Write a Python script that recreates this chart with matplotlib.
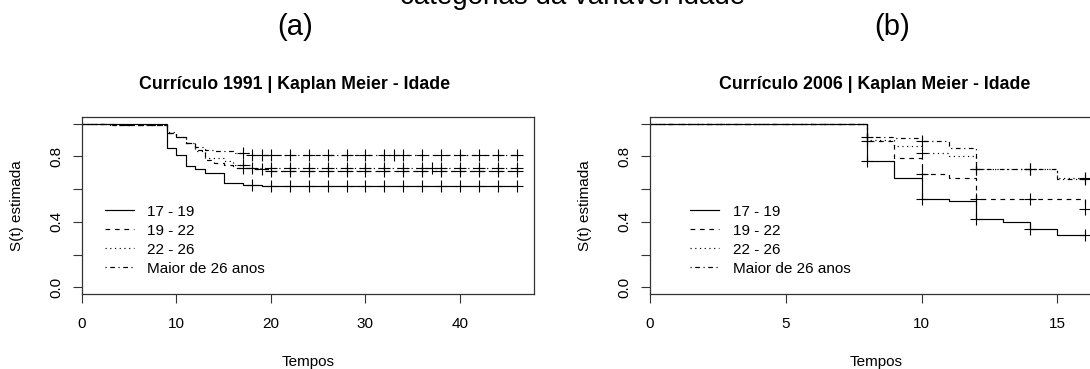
import numpy as np
import matplotlib
matplotlib.use("Agg")
import matplotlib.pyplot as plt

plt.rcParams["font.family"] = ["Liberation Sans", "DejaVu Sans"]

groups = ["17 - 19", "19 - 22", "22 - 26", "Maior de 26 anos"]
styles = ["-", (0, (4, 4)), (0, (1, 3)), (0, (1, 3, 4, 3))]

# Currículo 1991
a_end = 46
a_times = [
    [0, 9, 10, 11, 12, 13, 15, 17, 19],
    [0, 4, 9, 10, 11, 12, 13, 14, 15, 16, 18, 20],
    [0, 3, 9, 10, 11, 12, 13, 15, 16, 18],
    [0, 3, 9, 10, 11, 12, 13, 14, 16, 18],
]
a_surv = [
    [1.0, 0.85, 0.81, 0.74, 0.72, 0.70, 0.64, 0.626, 0.62],
    [1.0, 0.99, 0.94, 0.92, 0.88, 0.84, 0.78, 0.76, 0.75, 0.73, 0.72, 0.71],
    [1.0, 0.99, 0.95, 0.92, 0.88, 0.83, 0.79, 0.77, 0.75, 0.73],
    [1.0, 0.99, 0.94, 0.92, 0.88, 0.86, 0.84, 0.83, 0.82, 0.81],
]
a_censor = [
    [18, 20, 22, 24, 26, 28, 30, 32, 34, 36, 38, 40, 42, 44, 46],
    [17, 19, 20, 22, 24, 26, 28, 30, 32, 34, 36, 38, 40, 42, 44, 46],
    [17, 18, 20, 22, 24, 26, 28, 30, 32, 34, 36, 37, 38, 40, 42, 44, 46],
    [17, 18, 19, 20, 22, 24, 26, 28, 30, 32, 33, 34, 36, 38, 40, 42, 44, 46],
]

# Currículo 2006
b_end = 16
b_times = [
    [0, 8, 9, 10, 11, 12, 13, 14, 15],
    [0, 8, 9, 10, 11, 12, 16],
    [0, 8, 9, 10, 11, 12, 15],
    [0, 8, 9, 10, 11, 12, 15],
]
b_surv = [
    [1.0, 0.77, 0.67, 0.54, 0.53, 0.42, 0.40, 0.355, 0.318],
    [1.0, 0.895, 0.79, 0.69, 0.665, 0.54, 0.48],
    [1.0, 0.90, 0.865, 0.82, 0.80, 0.72, 0.67],
    [1.0, 0.92, 0.91, 0.895, 0.85, 0.72, 0.66],
]
b_censor = [
    [8, 10, 12, 14, 16],
    [8, 10, 12, 14, 16],
    [10, 12, 14, 16],
    [8, 10, 12, 14, 16],
]

fig = plt.figure(figsize=(10.9, 3.69), dpi=100)

ax1 = fig.add_axes([82 / 1090, 1 - 294 / 369, 452 / 1090, 177 / 369])
ax2 = fig.add_axes([650 / 1090, 1 - 294 / 369, 452 / 1090, 177 / 369])


def km_panel(ax, times, surv, censor, end, xmax, xticks, title, title_x, leg_x):
    for t, s, c, ls, lab in zip(times, surv, censor, styles, groups):
        tt = list(t) + [end]
        ss = list(s) + [s[-1]]
        ax.step(tt, ss, where="post", color="black", lw=0.85, linestyle=ls, label=lab)
        # censor marks on the curve
        idx = np.searchsorted(np.array(t), np.array(c), side="right") - 1
        ax.plot(c, np.array(s)[idx], linestyle="none", marker="+",
                markersize=8, markeredgewidth=0.8, color="black")

    ax.set_xlim(0, xmax)
    ax.set_ylim(-0.04, 1.04)
    ax.set_xticks(xticks)
    ax.set_yticks([0, 0.2, 0.4, 0.6, 0.8, 1.0])
    ax.set_yticklabels(["0.0", "", "0.4", "", "0.8", ""])
    ax.tick_params(direction="out", length=6.5, width=0.8, labelsize=11, color="#333333")
    ax.tick_params(axis="x", pad=10)
    ax.tick_params(axis="y", pad=7, labelrotation=90)
    for lb in ax.get_yticklabels():
        lb.set_va("center")
    for sp in ax.spines.values():
        sp.set_linewidth(0.9)
        sp.set_color("#333333")

    ax.set_xlabel("Tempos", fontsize=11)
    ax.xaxis.set_label_coords(0.5, -0.345)
    ax.set_ylabel("S(t) estimada", fontsize=11)
    ax.yaxis.set_label_coords(-0.128, 0.5)
    ax.set_title(title, fontsize=12.8, fontweight="bold", x=title_x, pad=20)

    ax.legend(loc="upper left", bbox_to_anchor=(leg_x, 0.505), frameon=False,
              fontsize=11, handlelength=1.9, handletextpad=0.9,
              labelspacing=0.33, borderaxespad=0, borderpad=0)


km_panel(ax1, a_times, a_surv, a_censor, a_end, a_end * 1.04,
         [0, 10, 20, 30, 40], "Currículo 1991 | Kaplan Meier - Idade",
         (295 - 82) / 452, 0.05)
km_panel(ax2, b_times, b_surv, b_censor, b_end, b_end * 1.04,
         [0, 5, 10, 15], "Currículo 2006 | Kaplan Meier - Idade",
         (875 - 650) / 452, 0.088)

fig.text(573 / 1090, 1 - 4 / 369, "categorias da variável idade",
         fontsize=20, ha="center", va="baseline")
fig.text(295 / 1090, 1 - 27 / 369, "(a)", fontsize=21, ha="center", va="center")
fig.text(892 / 1090, 1 - 27 / 369, "(b)", fontsize=21, ha="center", va="center")

fig.savefig("out.png", dpi=100)
